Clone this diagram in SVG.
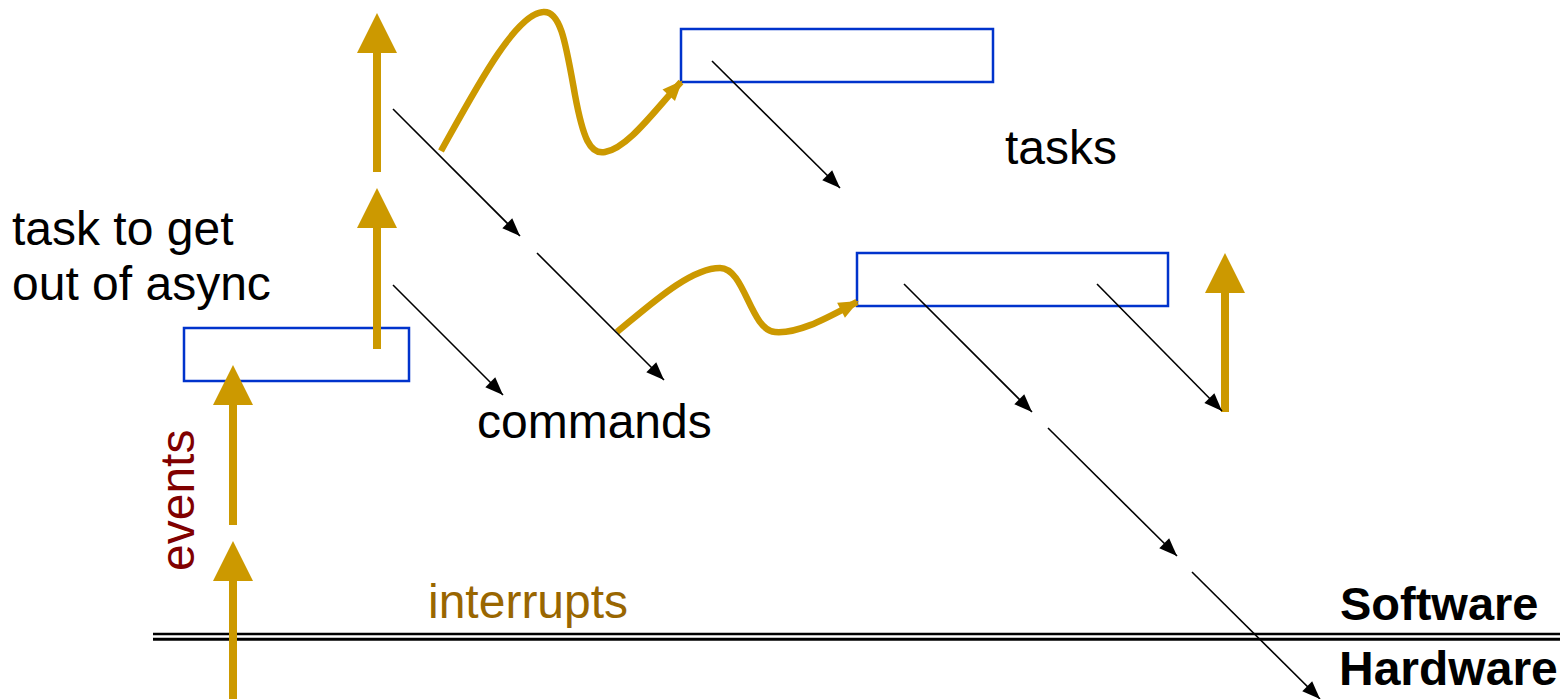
<svg xmlns="http://www.w3.org/2000/svg" width="1566" height="699" viewBox="0 0 1566 699">
  <style>
    .box { fill: none; stroke: #0033cc; stroke-width: 2.5; }
    .flow { stroke: #cc9900; stroke-width: 8; fill: none; marker-end: url(#bigHead); }
    .wave { stroke: #cc9900; stroke-width: 6.5; fill: none; stroke-linecap: butt; marker-end: url(#waveHead); }
    .call { stroke: #000; stroke-width: 1.6; fill: none; marker-end: url(#thinHead); }
    .lbl { font-family: "Liberation Sans", Arial, sans-serif; font-size: 48px; fill: #000; }
    .bold { font-weight: bold; }
  </style>
  <defs>
    <!-- wide arrowhead for the thick event/task arrows (units = stroke width 8) -->
    <marker id="bigHead" markerUnits="strokeWidth" markerWidth="5" markerHeight="5" refX="0" refY="2.5" orient="auto" overflow="visible">
      <path d="M0,0 L5,2.5 L0,5 z" fill="#cc9900"/>
    </marker>
    <marker id="waveHead" markerUnits="userSpaceOnUse" markerWidth="20" markerHeight="17" refX="18" refY="8.5" orient="auto" overflow="visible">
      <path d="M0,0 L20,8.5 L0,17 z" fill="#cc9900"/>
    </marker>
    <marker id="thinHead" markerUnits="userSpaceOnUse" markerWidth="18" markerHeight="14" refX="18" refY="7" orient="auto" overflow="visible">
      <path d="M0,0 L18,7 L0,14 z" fill="#000"/>
    </marker>
  </defs>

  <!-- software / hardware boundary -->
  <g id="boundary">
    <line x1="153" y1="634" x2="1560" y2="634" stroke="#000" stroke-width="2.5"/>
    <line x1="153" y1="639.2" x2="1560" y2="639.2" stroke="#000" stroke-width="3"/>
  </g>

  <!-- task boxes -->
  <g id="task-async">
    <rect class="box" x="184" y="328" width="225" height="53"/>
  </g>
  <g id="task-top">
    <rect class="box" x="681" y="29" width="312" height="53"/>
  </g>
  <g id="task-mid">
    <rect class="box" x="857" y="253" width="311" height="53"/>
  </g>

  <g id="connectors">
    <!-- events rising from hardware -->
    <line class="flow" x1="233" y1="699" x2="233" y2="581"/>
    <line class="flow" x1="233" y1="525" x2="233" y2="405"/>
    <line class="flow" x1="377" y1="349" x2="377" y2="228"/>
    <line class="flow" x1="377" y1="172" x2="377" y2="53"/>
    <line class="flow" x1="1225" y1="412" x2="1225" y2="293"/>

    <!-- task posting -->
    <path class="wave" d="M441,151 C475,90 515,14 543,12 C561,10 566,45 575,95 C583,138 590,155 605,152 C628,148 655,110 681,82"/>
    <path class="wave" d="M617,332 C650,305 690,268 720,268 C745,268 750,330 775,332 C800,334 830,316 857,302"/>

    <!-- commands going down -->
    <line class="call" x1="393" y1="109" x2="520" y2="236"/>
    <line class="call" x1="537" y1="253" x2="664" y2="380"/>
    <line class="call" x1="393" y1="285" x2="503" y2="395"/>
    <line class="call" x1="712" y1="61" x2="840" y2="188"/>
    <line class="call" x1="904" y1="284" x2="1032" y2="412"/>
    <line class="call" x1="1097" y1="284" x2="1222" y2="411"/>
    <line class="call" x1="1048" y1="428" x2="1177" y2="556"/>
    <line class="call" x1="1192" y1="572" x2="1320" y2="699"/>
  </g>

  <!-- labels -->
  <text class="lbl" x="1005" y="164">tasks</text>
  <text class="lbl" x="12" y="245">task to get</text>
  <text class="lbl" x="12" y="300">out of async</text>
  <text class="lbl" x="477" y="438">commands</text>
  <text class="lbl" x="428" y="618" style="fill:#996600">interrupts</text>
  <text class="lbl" transform="translate(194,571) rotate(-90)" style="fill:#800000">events</text>
  <text class="lbl bold" x="1340" y="620" style="font-size:47px">Software</text>
  <text class="lbl bold" x="1339" y="685">Hardware</text>
</svg>
